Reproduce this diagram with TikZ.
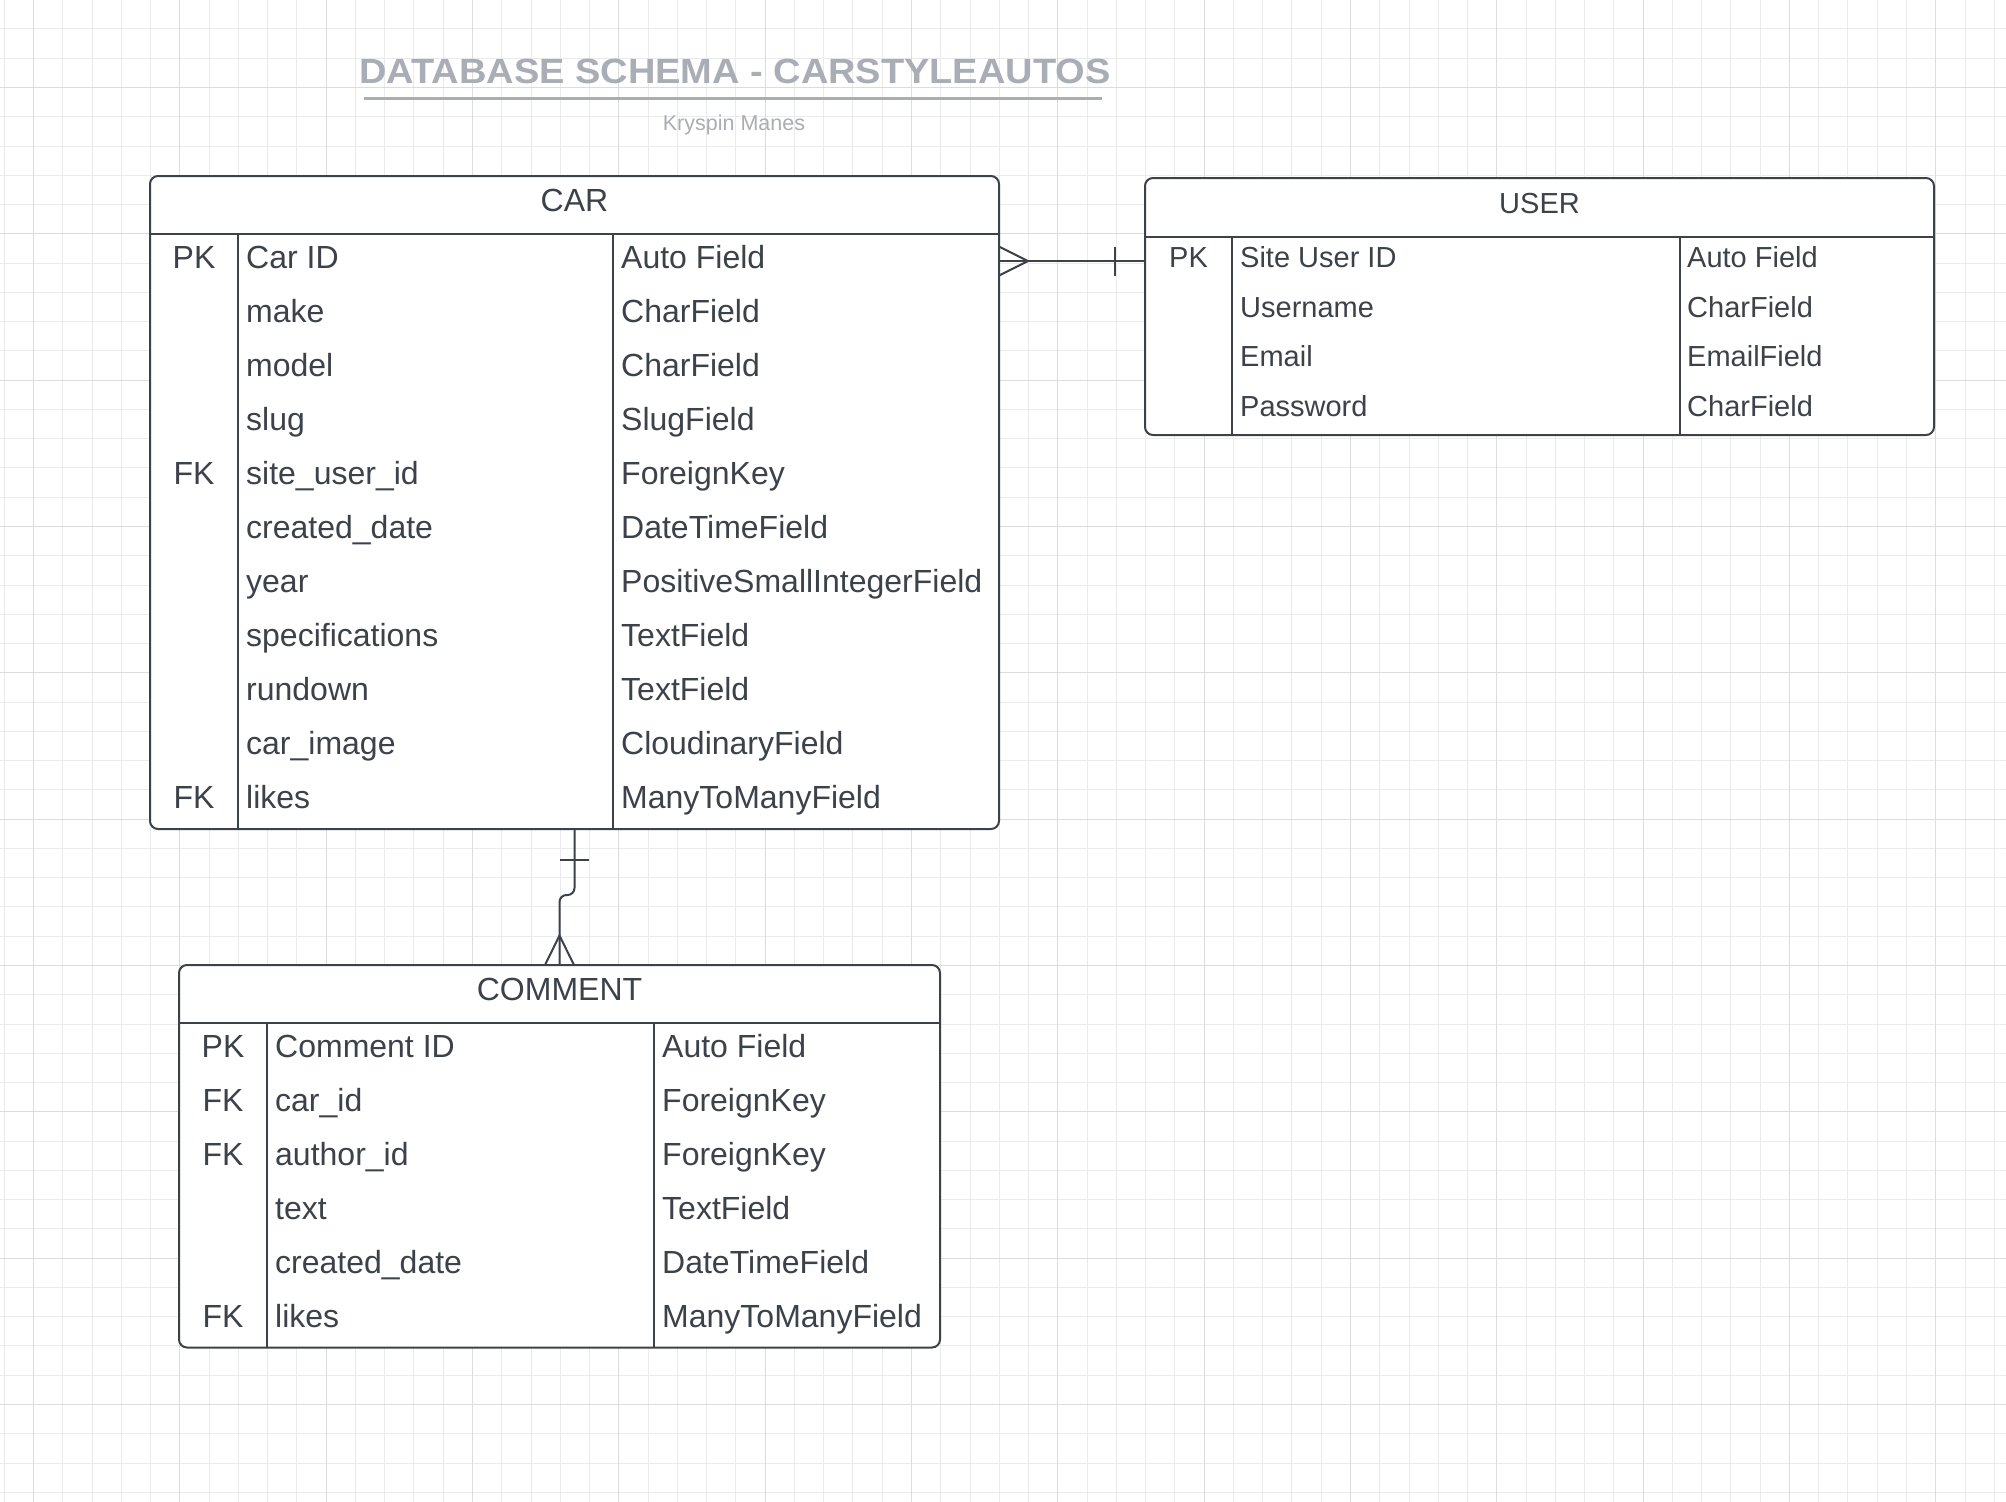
\documentclass[tikz,border=0pt]{standalone}
\usepackage{fontspec}
\setmainfont{Liberation Sans}
\usetikzlibrary{calc}
\definecolor{ink}{HTML}{3C424A}
\definecolor{gridminor}{HTML}{EBEBEB}
\definecolor{gridmajor}{HTML}{DCDCDC}
\definecolor{titlegray}{HTML}{A9ADB5}
\begin{document}
\begin{tikzpicture}[x=1pt,y=-1pt,
  tbl/.style={draw=ink, line width=2pt, fill=white, rounded corners=8pt, inner sep=0pt, outer sep=0pt, anchor=north west},
  rowbox/.style={inner sep=0pt, outer sep=0pt, anchor=north west},
  sep/.style={draw=ink, line width=1.7pt},
  conn/.style={draw=ink, line width=2pt},
  big/.style={text=ink, inner sep=0pt, font=\fontsize{32}{38}\selectfont},
  small/.style={text=ink, inner sep=0pt, font=\fontsize{29}{35}\selectfont},
  gmin/.style={gridminor, line width=1pt},
  gmaj/.style={gridmajor, line width=1pt},
]
\useasboundingbox (0,0) rectangle (2006,1502);
\clip (0,0) rectangle (2006,1502);
\fill[white] (0,0) rectangle (2006,1502);
% grid
\foreach \k in {-1,...,67} {\draw[gmin] ({round(33+\k*29.266)+0.5},0) -- ({round(33+\k*29.266)+0.5},1502);}
\foreach \k in {-2,...,48} {\draw[gmin] (0,{round(87+\k*29.266)+0.5}) -- (2006,{round(87+\k*29.266)+0.5});}
\foreach \k in {0,...,13} {\draw[gmaj] ({round(33+\k*146.33)+0.5},0) -- ({round(33+\k*146.33)+0.5},1502);}
\foreach \k in {0,...,9} {\draw[gmaj] (0,{round(87+\k*146.33)+0.5}) -- (2006,{round(87+\k*146.33)+0.5});}

% title
\node[font=\bfseries\fontsize{35}{42}\selectfont, text=titlegray, anchor=base, xscale=1.085, inner sep=0pt] (title) at (735,83) {DATABASE SCHEMA - CARSTYLEAUTOS};
\draw[titlegray, line width=3pt] (364,98) -- (1102,98);
\node[font=\fontsize{21.5}{26}\selectfont, text=titlegray, anchor=base, inner sep=0pt] (author) at (734,130) {Kryspin Manes};

% CAR table
\node[tbl, minimum width=849pt, minimum height=653pt] (car) at (150,176) {};
\draw[sep] (150,234) -- (999,234);
\draw[sep] (238,234) -- (238,829);
\draw[sep] (613,234) -- (613,829);
\node[big, anchor=base] (car-h) at (574.5,211.7) {CAR};
\foreach \n/\t [count=\i] in {Car ID/Auto Field, make/CharField, model/CharField, slug/SlugField, site\_user\_id/ForeignKey, created\_date/DateTimeField, year/PositiveSmallIntegerField, specifications/TextField, rundown/TextField, car\_image/CloudinaryField, likes/ManyToManyField} {
  \node[rowbox, minimum width=849pt, minimum height=54.09pt] (car-r\i) at (150,{234+(\i-1)*54.09}) {};
  \node[big, anchor=base west] (car-n\i) at ([xshift=96pt,yshift=-7pt]car-r\i.west) {\n};
  \node[big, anchor=base west] (car-t\i) at ([xshift=471pt,yshift=-7pt]car-r\i.west) {\t};
}
\node[big, anchor=base] (car-k1) at ([xshift=44pt,yshift=-7pt]car-r1.west) {PK};
\node[big, anchor=base] (car-k5) at ([xshift=44pt,yshift=-7pt]car-r5.west) {FK};
\node[big, anchor=base] (car-k11) at ([xshift=44pt,yshift=-7pt]car-r11.west) {FK};

% USER table
\node[tbl, minimum width=789pt, minimum height=257pt] (user) at (1145,178) {};
\draw[sep] (1145,236.7) -- (1934,236.7);
\draw[sep] (1232,236.7) -- (1232,435);
\draw[sep] (1680,236.7) -- (1680,435);
\node[small, anchor=base] (user-h) at (1539.5,213.3) {USER};
\foreach \n/\t [count=\i] in {Site User ID/Auto Field, Username/CharField, Email/EmailField, Password/CharField} {
  \node[rowbox, minimum width=789pt, minimum height=49.6pt] (user-r\i) at (1145,{236.7+(\i-1)*49.6}) {};
  \node[small, anchor=base west] (user-n\i) at ([xshift=95pt,yshift=-6pt]user-r\i.west) {\n};
  \node[small, anchor=base west] (user-t\i) at ([xshift=542pt,yshift=-6pt]user-r\i.west) {\t};
}
\node[small, anchor=base] (user-k1) at ([xshift=43.5pt,yshift=-6pt]user-r1.west) {PK};

% COMMENT table
\node[tbl, minimum width=761pt, minimum height=382.5pt] (comment) at (179,965) {};
\draw[sep] (179,1023) -- (940,1023);
\draw[sep] (267,1023) -- (267,1347.5);
\draw[sep] (654,1023) -- (654,1347.5);
\node[big, anchor=base] (comment-h) at (559.5,1000.7) {COMMENT};
\foreach \n/\t [count=\i] in {Comment ID/Auto Field, car\_id/ForeignKey, author\_id/ForeignKey, text/TextField, created\_date/DateTimeField, likes/ManyToManyField} {
  \node[rowbox, minimum width=761pt, minimum height=54pt] (comment-r\i) at (179,{1023+(\i-1)*54}) {};
  \node[big, anchor=base west] (comment-n\i) at ([xshift=96pt,yshift=-7.5pt]comment-r\i.west) {\n};
  \node[big, anchor=base west] (comment-t\i) at ([xshift=483pt,yshift=-7.5pt]comment-r\i.west) {\t};
}
\node[big, anchor=base] (comment-k1) at ([xshift=44pt,yshift=-7.5pt]comment-r1.west) {PK};
\node[big, anchor=base] (comment-k2) at ([xshift=44pt,yshift=-7.5pt]comment-r2.west) {FK};
\node[big, anchor=base] (comment-k3) at ([xshift=44pt,yshift=-7.5pt]comment-r3.west) {FK};
\node[big, anchor=base] (comment-k6) at ([xshift=44pt,yshift=-7.5pt]comment-r6.west) {FK};

% CAR -- USER connector (many to one)
\coordinate (uend) at (car-r1.east -| user.west);
\draw[conn] (car-r1.east) -- (uend);
\draw[conn] ([yshift=14.5pt]car-r1.east) -- ([xshift=29pt]car-r1.east) -- ([yshift=-14.5pt]car-r1.east);
\draw[conn] ([xshift=-30pt,yshift=14.5pt]uend) -- ([xshift=-30pt,yshift=-14.5pt]uend);

% CAR -- COMMENT connector (one to many)
\draw[conn, rounded corners=7pt] (car.south) -- ++(0,66) -| (comment.north);
\draw[conn] ([xshift=-14.5pt,yshift=-31pt]car.south) -- ([xshift=14.5pt,yshift=-31pt]car.south);
\draw[conn] ([xshift=-14.5pt]comment.north) -- ([yshift=29.5pt]comment.north) -- ([xshift=14.5pt]comment.north);
\end{tikzpicture}
\end{document}
